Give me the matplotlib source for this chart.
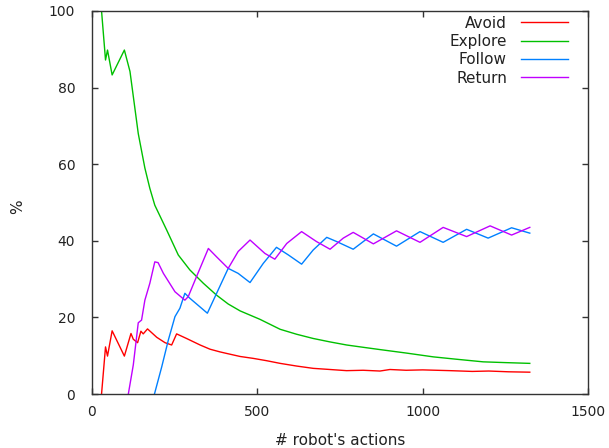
import matplotlib
matplotlib.use("Agg")
import matplotlib.pyplot as plt

# values
avoid_x = [29, 41, 47, 61, 98, 118, 125, 138, 148, 155, 168, 196, 221, 241, 256, 286, 327, 357, 387, 407,
           448, 488, 528, 569, 619, 669, 720, 770, 820, 871, 901, 950, 1000, 1083, 1150, 1200, 1260, 1324]
avoid_y = [0, 12.3, 9.9, 16.5, 9.9, 15.8, 14.3, 13.4, 16.4, 15.7, 17.0, 14.8, 13.4, 12.8, 15.7, 14.5, 12.8, 11.7, 11.0, 10.6,
           9.8, 9.3, 8.7, 8.0, 7.3, 6.7, 6.4, 6.1, 6.2, 6.0, 6.4, 6.2, 6.3, 6.1, 5.9, 6.0, 5.8, 5.7]

explore_x = [29, 41, 47, 61, 98, 115, 140, 160, 175, 190, 226, 261, 296, 337, 377, 412, 448, 508, 569, 619,
             669, 720, 770, 820, 871, 950, 1032, 1100, 1183, 1250, 1324]
explore_y = [100, 87.2, 89.8, 83.3, 89.8, 84.2, 68, 59, 53.7, 49.3, 42.8, 36.3, 32.4, 28.9, 25.8, 23.5, 21.7, 19.5, 16.9, 15.6,
             14.5, 13.6, 12.8, 12.2, 11.6, 10.7, 9.7, 9.1, 8.4, 8.2, 8.0]

follow_x = [189, 211, 231, 251, 266, 281, 296, 349, 377, 412, 442, 478, 518, 558, 594, 634, 669, 710, 740, 790,
            851, 921, 992, 1062, 1133, 1198, 1269, 1324]
follow_y = [0, 7.1, 14.1, 20.2, 22.4, 26.3, 25.0, 21.1, 26.3, 32.8, 31.5, 29.1, 34.1, 38.3, 36.3, 33.9, 37.6, 40.9, 39.8, 37.8,
            41.8, 38.6, 42.4, 39.6, 43.0, 40.7, 43.4, 42.0]

return_x = [110, 125, 140, 150, 160, 175, 190, 200, 216, 251, 281, 291, 316, 352, 377, 412, 442, 478, 523, 553,
            589, 634, 679, 720, 760, 790, 851, 921, 992, 1062, 1133, 1204, 1269, 1324]
return_y = [0, 7.6, 18.6, 19.3, 24.5, 28.9, 34.5, 34.3, 31.5, 26.7, 24.5, 25.4, 30.6, 38.0, 35.8, 32.8, 37.2, 40.2, 36.7, 35.2,
            39.3, 42.4, 39.8, 37.8, 40.7, 42.2, 39.2, 42.6, 39.6, 43.5, 41.1, 43.9, 41.5, 43.5]

x_ticks = [0, 500, 1000, 1500]
y_ticks = [0, 20, 40, 60, 80, 100]

plt.rcParams['font.family'] = 'DejaVu Sans'
plt.rcParams['font.size'] = 10

fig = plt.figure(figsize=(6.09, 4.48), dpi=100)
ax = fig.add_axes([0.151, 0.1205, 0.8145, 0.855])

ax.plot(avoid_x, avoid_y, color='#ff0000', lw=1, label='Avoid')
ax.plot(explore_x, explore_y, color='#00c000', lw=1, label='Explore')
ax.plot(follow_x, follow_y, color='#0080ff', lw=1, label='Follow')
ax.plot(return_x, return_y, color='#c000ff', lw=1, label='Return')

ax.set_xlim(0, 1500)
ax.set_ylim(0, 100)
ax.set_xticks(x_ticks)
ax.set_yticks(y_ticks)
ax.tick_params(direction='in', top=True, right=True, length=4, width=1, colors='#333333',
               labelcolor='#222222', labelsize=10)
ax.tick_params(axis='x', pad=8)
ax.tick_params(axis='y', pad=12)
for s in ax.spines.values():
    s.set_color('#333333')
    s.set_linewidth(1)

ax.set_xlabel("# robot's actions", fontsize=11, labelpad=10, color='#222222')
ax.set_ylabel('%', fontsize=11, color='#222222')
ax.yaxis.set_label_coords(-0.135, 0.49)

ax.legend(loc='upper right', bbox_to_anchor=(0.9597, 0.988), frameon=False, markerfirst=False,
          fontsize=11, handlelength=3.1, labelspacing=0.22, borderaxespad=0, borderpad=0,
          handletextpad=0.9, labelcolor='#222222')

fig.savefig('out.png', dpi=100)
